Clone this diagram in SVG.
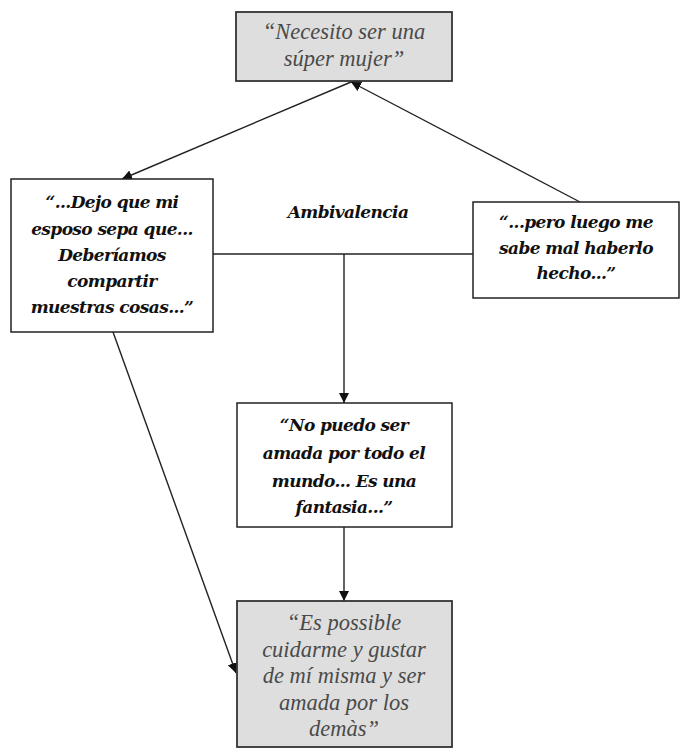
<svg xmlns="http://www.w3.org/2000/svg" width="681" height="749" viewBox="0 0 681 749">
<defs>
<style>
.box{fill:#fff;stroke:#222;stroke-width:1.5}
.gray{fill:#dedede;stroke:#333;stroke-width:1.8}
.ql{font-family:"Liberation Serif","Times New Roman",serif;font-style:italic;font-size:22.5px;fill:#4a4a4a;text-anchor:middle}
.qb{font-family:"DejaVu Serif",serif;font-style:italic;font-weight:bold;font-size:17px;fill:#111;text-anchor:middle;letter-spacing:-0.6px}
.ln{stroke:#222;stroke-width:1.4;fill:none}
</style>
<marker id="ah" viewBox="0 0 10 10" refX="10" refY="5" markerWidth="10" markerHeight="10" markerUnits="userSpaceOnUse" orient="auto">
<path d="M0,0 L10,5 L0,10 Z" fill="#111"/>
</marker>
</defs>
<rect width="681" height="749" fill="#fff"/>
<g id="connectors">
<line class="ln" x1="351" y1="82" x2="122" y2="179" marker-start="url(#ah)" marker-end="url(#ah)"/>
<line class="ln" x1="580" y1="202" x2="351" y2="82" marker-end="url(#ah)"/>
<line class="ln" x1="213" y1="254" x2="473" y2="254"/>
<line class="ln" x1="344" y1="254" x2="344" y2="403" marker-end="url(#ah)"/>
<line class="ln" x1="344" y1="527" x2="344" y2="601" marker-end="url(#ah)"/>
<line class="ln" x1="113" y1="332" x2="236" y2="673" marker-end="url(#ah)"/>
</g>
<g id="n-top">
<rect class="gray" x="236" y="12" width="216" height="69"/>
<text class="ql" x="344" y="39">“Necesito ser una</text>
<text class="ql" x="344" y="66">súper mujer”</text>
</g>
<g id="n-left">
<rect class="box" x="11" y="179" width="202" height="153"/>
<text class="qb" x="112" y="208">“...Dejo que mi</text>
<text class="qb" x="112" y="235">esposo sepa que...</text>
<text class="qb" x="112" y="261">Deberíamos</text>
<text class="qb" x="112" y="287">compartir</text>
<text class="qb" x="112" y="313">muestras cosas...”</text>
</g>
<g id="n-ambivalencia">
<text class="qb" x="348" y="218">Ambivalencia</text>
</g>
<g id="n-right">
<rect class="box" x="473" y="202" width="206" height="96"/>
<text class="qb" x="576" y="228">“...pero luego me</text>
<text class="qb" x="576" y="254">sabe mal haberlo</text>
<text class="qb" x="576" y="279">hecho...”</text>
</g>
<g id="n-middle">
<rect class="box" x="237" y="403" width="215" height="124"/>
<text class="qb" x="344" y="431">“No puedo ser</text>
<text class="qb" x="344" y="459">amada por todo el</text>
<text class="qb" x="344" y="487">mundo... Es una</text>
<text class="qb" x="344" y="513">fantasia...”</text>
</g>
<g id="n-bottom">
<rect class="gray" x="237" y="601" width="215" height="146"/>
<text class="ql" x="344" y="630">“Es possible</text>
<text class="ql" x="344" y="657">cuidarme y gustar</text>
<text class="ql" x="344" y="683">de mí misma y ser</text>
<text class="ql" x="344" y="710">amada por los</text>
<text class="ql" x="344" y="736">demàs”</text>
</g>
</svg>
